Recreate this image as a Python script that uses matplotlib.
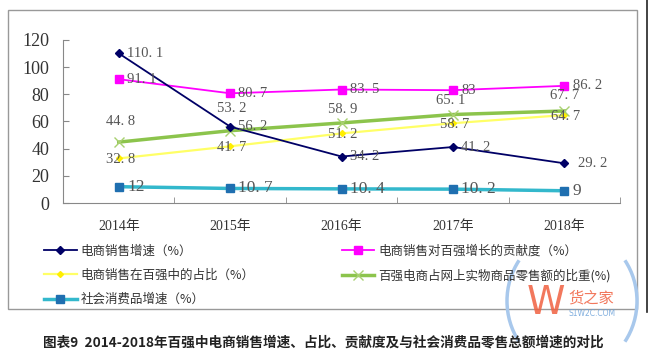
import numpy as np
import matplotlib.pyplot as plt
from matplotlib.patches import Rectangle, Arc
from matplotlib.lines import Line2D

plt.rcParams['font.family'] = ['Liberation Serif', 'Noto Sans CJK SC', 'DejaVu Sans']

# 数据
years = ['2014年', '2015年', '2016年', '2017年', '2018年']
growth = [110.1, 56.2, 34.2, 41.2, 29.2]          # 电商销售增速
contrib = [91.1, 80.7, 83.5, 83, 86.2]            # 对百强增长的贡献度
share_top100 = [32.8, 41.7, 51.2, 58.7, 64.7]     # 在百强中的占比
share_online = [44.8, 53.2, 58.9, 65.1, 67.7]     # 占网上实物商品零售额比重
retail_growth = [12, 10.7, 10.4, 10.2, 9]         # 社会消费品增速

growth_lbl = ['110. 1', '56. 2', '34. 2', '41. 2', '29. 2']
contrib_lbl = ['91. 1', '80. 7', '83. 5', '83', '86. 2']
share_top100_lbl = ['32. 8', '41. 7', '51. 2', '58. 7', '64. 7']
share_online_lbl = ['44. 8', '53. 2', '58. 9', '65. 1', '67. 7']
retail_lbl = ['12', '10. 7', '10. 4', '10. 2', '9']

x = np.arange(len(years))

fig = plt.figure(figsize=(6.5, 3.5), dpi=100)
ax = fig.add_axes([0.097, 0.42, 0.857, 0.466])

l1, = ax.plot(x, growth, color='#000066', lw=1.3, marker='D', ms=4, zorder=5)
l2, = ax.plot(x, contrib, color='#ff00ff', lw=1.3, marker='s', ms=6, zorder=4)
l3, = ax.plot(x, share_top100, color='#ffff66', lw=1.6, marker='D', ms=3,
              mfc='#ffee00', mec='#ffee00', zorder=3)
l4, = ax.plot(x, share_online, color='#8cc44c', lw=2.5, marker='x', ms=7,
              mec='#a8d070', mew=1, zorder=3)
l5, = ax.plot(x, retail_growth, color='#33b8cc', lw=2.5, marker='s', ms=6,
              mfc='#1f6fb0', mec='#1f6fb0', zorder=3)

lc = '#555555'
fs = 10.5
# 数据标签
for i in range(5):
    ax.annotate(contrib_lbl[i], (x[i], contrib[i]), xytext=(6, 0), textcoords='offset points',
                ha='left', va='center', fontsize=fs, color=lc, zorder=6)
    ax.annotate(retail_lbl[i], (x[i], retail_growth[i]), xytext=(6, 0), textcoords='offset points',
                ha='left', va='center', fontsize=fs + 2, color=lc, zorder=6)
    ax.annotate(share_top100_lbl[i], (x[i], share_top100[i]), xytext=(1, -1),
                textcoords='offset points', ha='center', va='center', fontsize=fs, color=lc, zorder=6)

growth_off = [(6, 0), (6, 0), (6, 0), (6, 0), (10, 0)]
for i in range(5):
    ax.annotate(growth_lbl[i], (x[i], growth[i]), xytext=growth_off[i],
                textcoords='offset points', ha='left', va='center', fontsize=fs, color=lc, zorder=6)

online_off = [(1, 15), (1, 16), (1, 10), (-2, 10), (0, 11)]
for i in range(5):
    ax.annotate(share_online_lbl[i], (x[i], share_online[i]), xytext=online_off[i],
                textcoords='offset points', ha='center', va='center', fontsize=fs, color=lc, zorder=6)

ax.set_xlim(-0.5, 4.5)
ax.set_ylim(0, 120)
ax.set_yticks(range(0, 121, 20))
ax.set_xticks(x)
ax.set_xticklabels(years, fontsize=10, color='#333333')
ax.set_xticks([0.5, 1.5, 2.5, 3.5, 4.5], minor=True)
ax.tick_params(axis='x', which='major', length=0, pad=12)
ax.tick_params(axis='x', which='minor', direction='in', length=4, color='#888888')
ax.tick_params(axis='y', direction='in', length=4, color='#888888', labelsize=13,
               labelcolor='#333333', pad=10)
for s in ['top', 'right']:
    ax.spines[s].set_visible(False)
for s in ['left', 'bottom']:
    ax.spines[s].set_color('#888888')

# 图例
leg_fp = {'family': ['Noto Sans CJK SC', 'DejaVu Sans'], 'size': 9}
fig.legend([l1, l3, l5, l2, l4],
           ['电商销售增速（%）', '电商销售在百强中的占比（%）', '社会消费品增速（%）',
            '电商销售对百强增长的贡献度（%）', '百强电商占网上实物商品零售额的比重(%)'],
           ncol=2, loc='upper left', bbox_to_anchor=(0.06, 0.316), frameon=False,
           prop=leg_fp, labelcolor='#333333', handlelength=2.6, handletextpad=0.3,
           columnspacing=7.0, labelspacing=0.9, borderaxespad=0)

# 外框
fig.patches.append(Rectangle((0.012, 0.117), 0.968, 0.855, transform=fig.transFigure,
                             fill=False, edgecolor='#999999', lw=1))
fig.add_artist(Line2D([0.995, 0.995], [0.11, 1.0], color='#222222', lw=1.2))

# 标题
fig.text(0.066, 0.02, '图表9  2014-2018年百强中电商销售增速、占比、贡献度及与社会消费品零售总额增速的对比',
         fontsize=9.8, fontweight='bold', va='center',
         family=['Noto Sans CJK SC', 'DejaVu Sans'], color='#222222')

# 水印
fig.patches.append(Arc((0.88, 0.14), 0.2, 0.4, theta1=125, theta2=235,
                       transform=fig.transFigure, color='#a8c8ec', lw=2.5))
fig.patches.append(Arc((0.88, 0.14), 0.2, 0.4, theta1=-55, theta2=55,
                       transform=fig.transFigure, color='#a8c8ec', lw=2.5))
fig.text(0.84, 0.134, 'W', fontsize=28, color='#f06040', ha='center', va='center',
         alpha=0.85, family=['DejaVu Sans'])
fig.text(0.909, 0.149, '货之家', fontsize=11, color='#f06040', ha='center', va='center',
         alpha=0.85, family=['Noto Sans CJK SC', 'DejaVu Sans'])
fig.text(0.911, 0.103, 'S1W2C.COM', fontsize=5.5, color='#6aa0d8', ha='center', va='center',
         alpha=0.85, family=['DejaVu Sans'])

fig.savefig('out.png', dpi=100)
